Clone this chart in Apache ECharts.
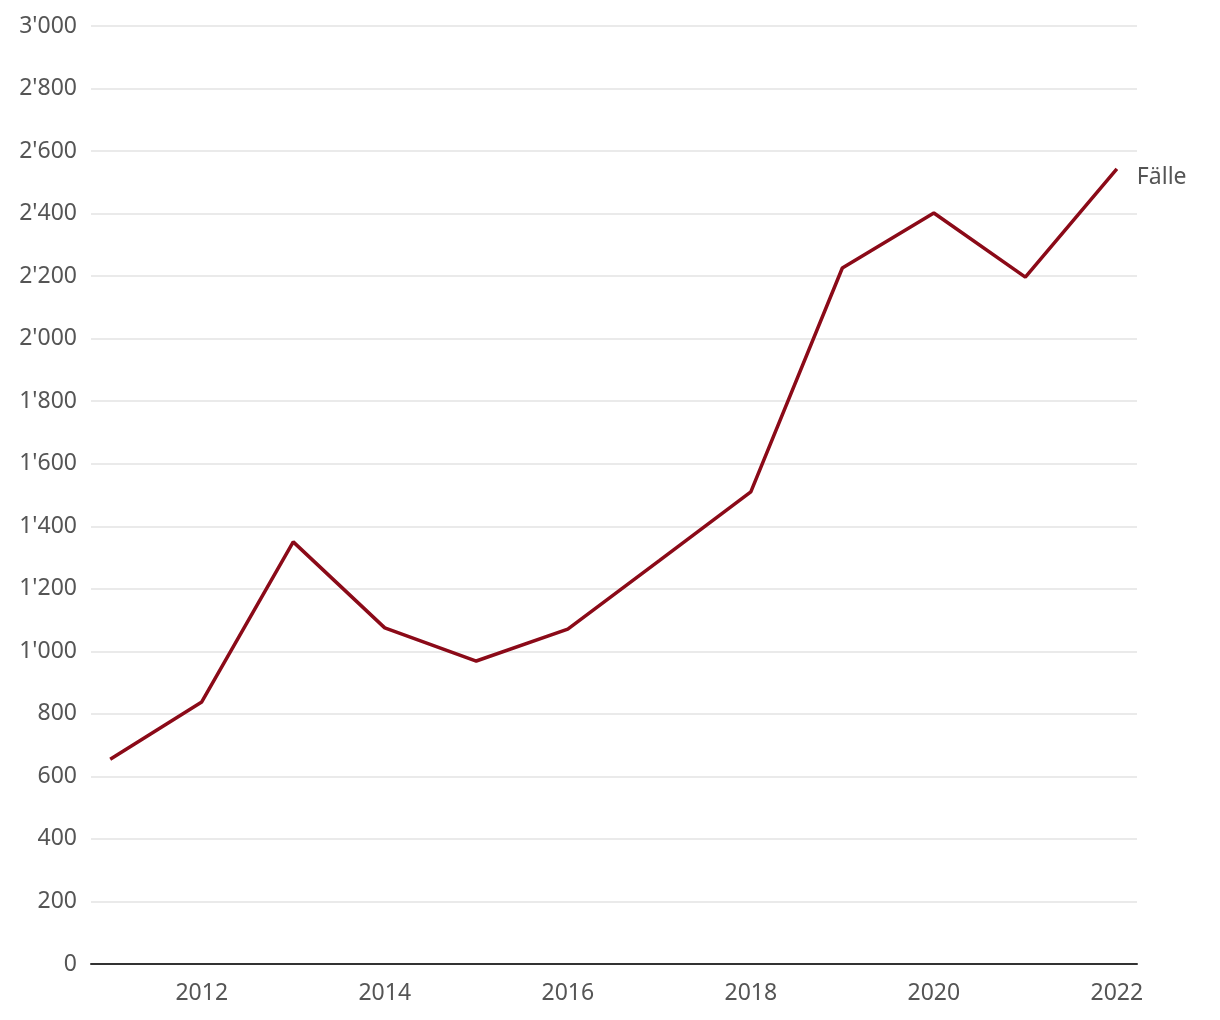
<!DOCTYPE html>
<html>
<head>
<meta charset="utf-8">
<script src="https://cdn.jsdelivr.net/npm/echarts@6/dist/echarts.min.js"></script>
<style>
html,body{margin:0;padding:0;background:#fff;}
#chart{width:1220px;height:1020px;}
</style>
</head>
<body>
<div id="chart"></div>
<script>
const years = [2011, 2012, 2013, 2014, 2015, 2016, 2017, 2018, 2019, 2020, 2021, 2022];
const faelle = [655, 838, 1350, 1075, 969, 1071, 1290, 1510, 2226, 2402, 2197, 2543];
const xTickYears = [2012, 2014, 2016, 2018, 2020, 2022];
const seriesName = 'Fälle';

const fmt = v => {
  const s = String(Math.round(v));
  return s.replace(/\B(?=(\d{3})+(?!\d))/g, "'");
};

const chart = echarts.init(document.getElementById('chart'));
chart.setOption({
  animation: false,
  textStyle: { fontFamily: 'Noto Sans' },
  grid: { left: 91, right: 83, top: 26, bottom: 56, containLabel: false },
  xAxis: {
    type: 'value',
    min: 2010.79,
    max: 2022.22,
    axisLine: { show: true, lineStyle: { color: '#333', width: 2 } },
    axisTick: { show: false },
    splitLine: { show: false },
    axisLabel: {
      customValues: xTickYears,
      color: '#555',
      fontSize: 23,
      margin: 18,
      formatter: v => String(v)
    }
  },
  yAxis: {
    type: 'value',
    min: 0,
    max: 3000,
    interval: 200,
    axisLine: { show: false },
    axisTick: { show: false },
    splitLine: { lineStyle: { color: '#e3e3e3', width: 1.5 } },
    axisLabel: {
      color: '#555',
      fontSize: 23,
      margin: 14,
      formatter: fmt
    }
  },
  series: [{
    name: seriesName,
    type: 'line',
    data: years.map((y, i) => [y, faelle[i]]),
    symbol: 'none',
    lineStyle: { color: '#8b0a18', width: 3.5 },
    itemStyle: { color: '#8b0a18' },
    endLabel: {
      show: true,
      formatter: seriesName,
      color: '#555',
      fontSize: 23,
      distance: 20,
      offset: [0, 9]
    }
  }]
});
</script>
</body>
</html>
